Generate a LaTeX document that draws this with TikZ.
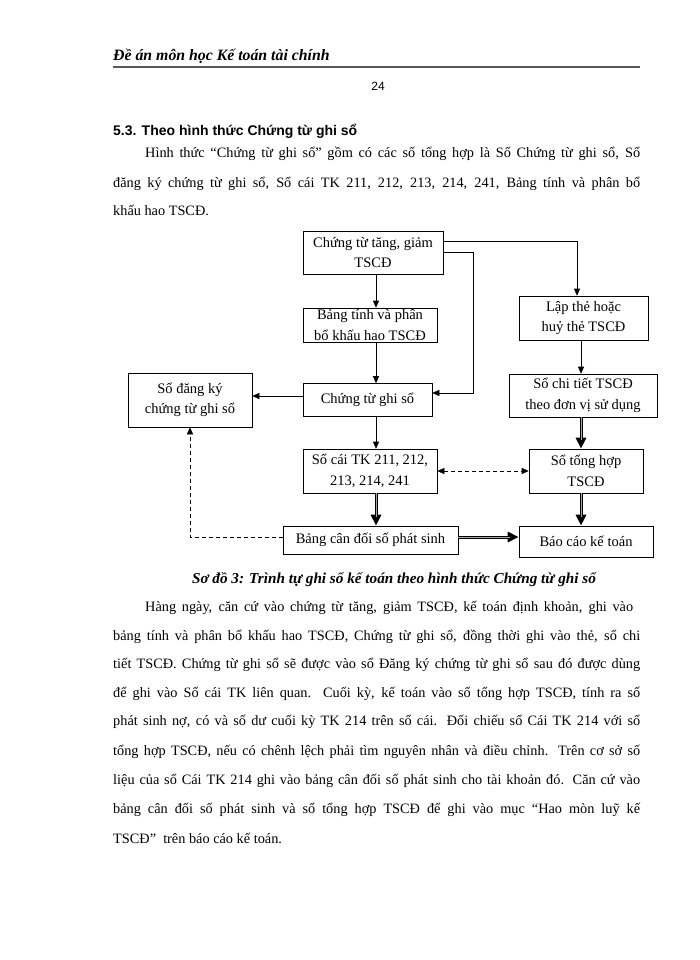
\documentclass[tikz,border=0pt]{standalone}
\usepackage{fontspec}
\setmainfont{Liberation Serif}
\newfontfamily\arialf{Liberation Sans}
\usetikzlibrary{arrows.meta,calc}
\begin{document}
\begin{tikzpicture}[x=1pt,y=-1pt,
 box/.style={draw, line width=0.6pt, align=center, inner sep=0pt, font=\fontsize{14.5}{20.5}\selectfont},
 arr/.style={line width=0.6pt, -{Triangle[length=7pt,width=6pt]}},
 dbl/.style={line width=3pt, -{Triangle[length=11pt,width=10pt]},
   postaction={draw=black!35, line width=0.9pt, shorten >=9pt, -}},
 dsh/.style={line width=0.6pt, dash pattern=on 4pt off 3pt},
 tip/.style={-{Triangle[length=7pt,width=6pt]}},
 tips/.style={{Triangle[length=7pt,width=6pt]}-{Triangle[length=7pt,width=6pt]}},
 txt/.style={anchor=base west, inner sep=0pt, font=\fontsize{14.3}{16}\selectfont}]
\useasboundingbox (0,0) rectangle (700,960);
\fill[white] (0,0) rectangle (700,960);

% header
\node[anchor=base west, inner sep=0pt, font=\fontsize{15.8}{18}\selectfont\bfseries\itshape] (hdr) at (113,61) {Đề án môn học Kế toán tài chính};
\draw[black!65, line width=2pt] (113,67.5) -- (640,67.5);
\node[anchor=base, inner sep=0pt, font=\arialf\fontsize{12}{14}\selectfont] (pg) at (378,91) {24};

% heading
\node[anchor=base west, inner sep=0pt, font=\arialf\bfseries\fontsize{14}{16}\selectfont] (h53) at (113,136) {5.3. Theo hình thức Chứng từ ghi sổ};

% intro paragraph
\node[txt] (p1) at (145,158) {\makebox[495pt][s]{Hình thức “Chứng từ ghi sổ” gồm có các số tổng hợp là Sổ Chứng từ ghi sổ, Sổ}};
\node[txt] (p2) at (113,187) {\makebox[527pt][s]{đăng ký chứng từ ghi sổ, Sổ cái TK 211, 212, 213, 214, 241, Bảng tính và phân bổ}};
\node[txt] (p3) at (113,215) {khấu hao TSCĐ.};

% boxes
\node[box, minimum width=140pt, minimum height=43pt] (A) at (373,252.5) {Chứng từ tăng, giảm\\TSCĐ};
\node[box, minimum width=134pt, minimum height=34pt] (B) at (370,325) {Bảng tính và phân\\bổ khấu hao TSCĐ};
\node[box, minimum width=129pt, minimum height=33pt] (C) at (367.5,400) {Chứng từ ghi sổ};
\node[box, minimum width=124pt, minimum height=54pt] (D) at (190,400) {Sổ đăng ký\\chứng từ ghi sổ};
\node[box, minimum width=134pt, minimum height=44pt] (E) at (370,471) {Sổ cái TK 211, 212,\\213, 214, 241};
\node[box, minimum width=175pt, minimum height=28pt] (F) at (370.5,540) {Bảng cân đối số phát sinh};
\node[box, minimum width=129pt, minimum height=44pt] (H) at (583.5,318) {Lập thẻ hoặc\\huỷ thẻ TSCĐ};
\node[box, minimum width=148pt, minimum height=43pt] (I) at (583,395.5) {Sổ chi tiết TSCĐ\\theo đơn vị sử dụng};
\node[box, minimum width=114pt, minimum height=44pt] (J) at (586,471) {Sổ tổng hợp\\TSCĐ};
\node[box, minimum width=134pt, minimum height=31pt] (G) at (586,541.5) {Báo cáo kế toán};

% column coordinates
\coordinate (cL) at (376,0);
\coordinate (cR) at (581,0);
\coordinate (k1) at (577,241);
\coordinate (k2) at (473,393);

% connectors
\draw[arr] (A.south -| cL) -- (B.north -| cL);
\draw[arr] (B.south -| cL) -- (C.north -| cL);
\draw[arr] (C.south -| cL) -- (E.north -| cL);
\draw[arr] (A.east |- k1) -- (k1) -- (k1 |- H.north);
\draw[arr] (A.east) -| (k2) -- (C.east |- k2);
\draw[arr] ([yshift=4pt]C.west) -- ([yshift=4pt]D.east);
\draw[arr] (H.south -| cR) -- (I.north -| cR);
\draw[dbl] (I.south -| cR) -- (J.north -| cR);
\draw[dbl] (J.south -| cR) -- (G.north -| cR);
\draw[dbl] (E.south -| cL) -- (F.north -| cL);
\draw[dbl] ([yshift=3pt]F.east) -- ([yshift=3pt]F.east -| G.west);
\draw[dsh, tips] (E.east) -- (J.west);
\draw[dsh, tip] ([yshift=3pt]F.west) -| (D.south);

% caption
\node[anchor=base, inner sep=0pt, font=\fontsize{15.2}{17}\selectfont\bfseries\itshape] (cap) at (394,583) {Sơ đồ 3: Trình tự ghi sổ kế toán theo hình thức Chứng từ ghi sổ};

% body paragraph
\node[txt] (b1) at (145,611) {\makebox[488pt][s]{Hàng ngày, căn cứ vào chứng từ tăng, giảm TSCĐ, kế toán định khoản, ghi vào}};
\node[txt] (b2) at (113,640) {\makebox[527pt][s]{bảng tính và phân bổ khấu hao TSCĐ, Chứng từ ghi sổ, đồng thời ghi vào thẻ, sổ chi}};
\node[txt] (b3) at (113,668) {\makebox[527pt][s]{tiết TSCĐ. Chứng từ ghi sổ sẽ được vào sổ Đăng ký chứng từ ghi sổ sau đó được dùng}};
\node[txt] (b4) at (113,697) {\makebox[527pt][s]{để ghi vào Sổ cái TK liên quan. Cuối kỳ, kế toán vào sổ tổng hợp TSCĐ, tính ra số}};
\node[txt] (b5) at (113,725) {\makebox[527pt][s]{phát sinh nợ, có và số dư cuối kỳ TK 214 trên sổ cái. Đối chiếu sổ Cái TK 214 với sổ}};
\node[txt] (b6) at (113,755) {\makebox[527pt][s]{tổng hợp TSCĐ, nếu có chênh lệch phải tìm nguyên nhân và điều chỉnh. Trên cơ sở số}};
\node[txt] (b7) at (113,784) {\makebox[527pt][s]{liệu của sổ Cái TK 214 ghi vào bảng cân đối số phát sinh cho tài khoản đó. Căn cứ vào}};
\node[txt] (b8) at (113,813) {\makebox[527pt][s]{bảng cân đối số phát sinh và sổ tổng hợp TSCĐ để ghi vào mục “Hao mòn luỹ kế}};
\node[txt] (b9) at (113,843) {TSCĐ”\ \ trên báo cáo kế toán.};
\end{tikzpicture}
\end{document}
